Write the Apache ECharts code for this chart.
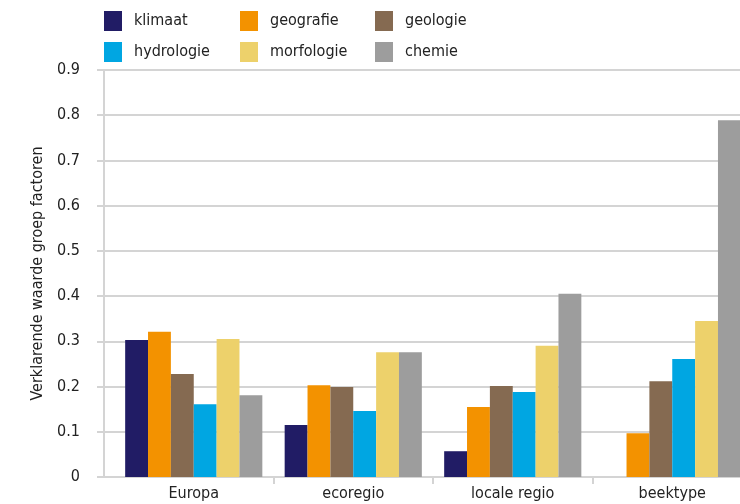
<!DOCTYPE html>
<html><head><meta charset="utf-8">
<script src="https://cdn.jsdelivr.net/npm/echarts@6/dist/echarts.min.js"></script>
<style>html,body{margin:0;padding:0;background:#fff;overflow:hidden;width:740px;height:504px}#c{width:752px;height:504px}</style>
</head><body><div id="c"></div>
<script>
const categories = ['Europa', 'ecoregio', 'locale regio', 'beektype'];
const klimaat    = [0.303, 0.115, 0.057, null];
const geografie  = [0.321, 0.203, 0.155, 0.097];
const geologie   = [0.228, 0.199, 0.201, 0.212];
const hydrologie = [0.161, 0.146, 0.188, 0.261];
const morfologie = [0.305, 0.276, 0.290, 0.345];
const chemie     = [0.181, 0.276, 0.405, 0.789];
const seriesNames = ['klimaat', 'geografie', 'geologie', 'hydrologie', 'morfologie', 'chemie'];
const seriesData = [klimaat, geografie, geologie, hydrologie, morfologie, chemie];
const colors = ['#211c65', '#f39200', '#856a51', '#00a6e2', '#edd16b', '#9d9d9d'];
const yTicks = { min: 0, max: 0.9, interval: 0.1 };

const FONT = '"DejaVu Sans Condensed", "Liberation Sans Narrow", sans-serif';
const TXT = '#222';
const GRID = '#d4d4d4';

const legendPos = [[104, 11], [240, 11], [375, 11], [104, 42], [240, 42], [375, 42]];
const legends = seriesNames.map((n, i) => ({
  data: [n], left: legendPos[i][0], top: legendPos[i][1],
  itemWidth: 18, itemHeight: 20, itemGap: 0, padding: 0,
  icon: 'rect', selectedMode: false,
  textStyle: { fontFamily: FONT, fontSize: 16, color: TXT, padding: [0, 0, 0, 7] }
}));

const chart = echarts.init(document.getElementById('c'), null, { renderer: 'canvas' });
chart.setOption({
  animation: false,
  color: colors,
  legend: legends,
  grid: { left: 114, top: 70, right: 0, bottom: 27, containLabel: false },
  xAxis: {
    type: 'category', data: categories,
    axisLine: { lineStyle: { color: GRID, width: 2 } },
    axisTick: { show: true, length: 7, lineStyle: { color: GRID, width: 2 },
      interval: function (idx) { return idx !== 0; } },
    axisLabel: { fontFamily: FONT, fontSize: 16, color: TXT, margin: 9 }
  },
  yAxis: [{
    type: 'value', min: yTicks.min, max: yTicks.max, interval: yTicks.interval,
    offset: 10,
    name: 'Verklarende waarde groep factoren', nameLocation: 'middle', nameGap: 55,
    nameTextStyle: { fontFamily: FONT, fontSize: 16, color: TXT },
    axisLine: { show: true, lineStyle: { color: GRID, width: 2 } },
    axisTick: { show: true, length: 7, lineStyle: { color: GRID, width: 2 } },
    axisLabel: { fontFamily: FONT, fontSize: 16, color: TXT, margin: 24,
      formatter: v => (v === 0 ? '0' : v.toFixed(1)) },
    splitLine: { show: true, lineStyle: { color: GRID, width: 2 } }
  }, {
    type: 'value', min: yTicks.min, max: yTicks.max, interval: yTicks.interval,
    position: 'left', offset: 0,
    axisLine: { show: false },
    axisTick: { show: true, length: 10, lineStyle: { color: GRID, width: 2 } },
    axisLabel: { show: false }, splitLine: { show: false }
  }],
  series: seriesNames.map((n, i) => ({
    name: n, type: 'bar', data: seriesData[i], yAxisIndex: 0,
    barGap: '0%', barCategoryGap: '14%',
    itemStyle: { color: colors[i] }
  }))
});
</script></body></html>
